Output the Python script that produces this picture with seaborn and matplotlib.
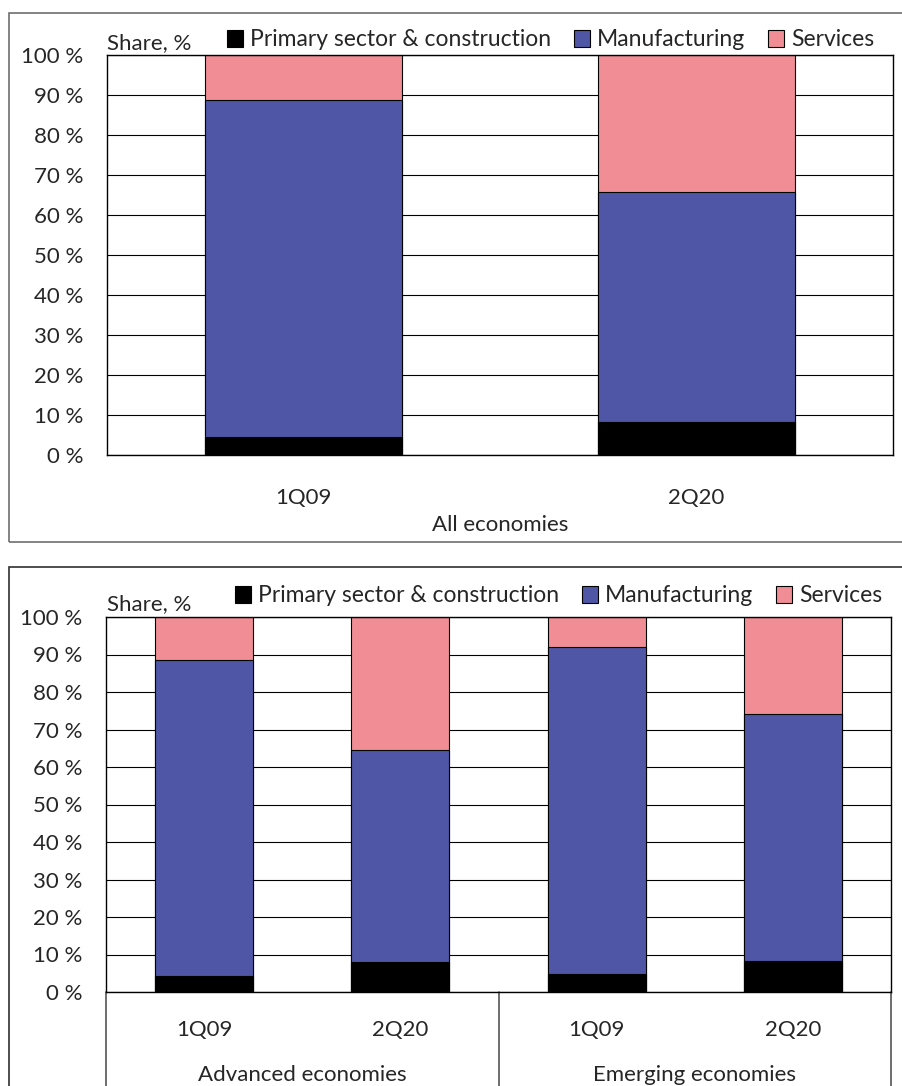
import pandas as pd
import seaborn as sns
import matplotlib.pyplot as plt
from matplotlib.patches import Rectangle, Patch
from matplotlib.lines import Line2D

# Data (shares, %)
sectors = ["Primary sector & construction", "Manufacturing", "Services"]
colors = ["#000000", "#4F56A6", "#F18D95"]

top_periods = ["1Q09", "2Q20"]
top_primary = [4.5, 8.2]
top_manuf = [84.3, 57.6]
top_services = [11.2, 34.2]

bot_groups = ["Advanced economies", "Advanced economies", "Emerging economies", "Emerging economies"]
bot_periods = ["1Q09", "2Q20", "1Q09", "2Q20"]
bot_primary = [4.3, 7.9, 4.9, 8.3]
bot_manuf = [84.2, 56.6, 87.1, 65.8]
bot_services = [11.5, 35.5, 8.0, 25.9]

sns.set_style("white")
plt.rcParams["font.family"] = ["Lato", "DejaVu Sans"]
FS = 16
LFS = 16.5

W, H = 902, 1086
fig = plt.figure(figsize=(W / 100, H / 100), dpi=100)


def fx(px):
    return px / W


def fy(py):
    return 1 - py / H


def stacked(ax, df):
    df = df.copy()
    df["c1"] = df["primary"]
    df["c2"] = df["primary"] + df["manuf"]
    df["c3"] = df["c2"] + df["services"]
    order = list(df["slot"])
    for col, c in zip(["c3", "c2", "c1"], colors[::-1]):
        sns.barplot(data=df, x="slot", y=col, order=order, color=c, width=0.5,
                    edgecolor="black", linewidth=0.8, saturation=1, ax=ax)
    ax.set_ylim(0, 100)
    ax.set_xlim(-0.5, len(order) - 0.5)
    ax.set_yticks(range(0, 101, 10))
    ax.set_yticklabels([f"{v} %" for v in range(0, 101, 10)], fontsize=FS)
    ax.yaxis.grid(True, color="#000000", linewidth=0.8)
    ax.set_axisbelow(True)
    ax.tick_params(axis="both", length=0)
    ax.tick_params(axis="y", pad=17)
    ax.tick_params(axis="x", pad=24)
    ax.set_xlabel("")
    ax.set_ylabel("")
    for s in ax.spines.values():
        s.set_visible(True)
        s.set_color("black")
        s.set_linewidth(1.0)


handles = [Patch(facecolor=c, edgecolor="black", linewidth=0.8, label=s)
           for s, c in zip(sectors, colors)]

# ---- Top panel: all economies
fig.add_artist(Rectangle((fx(9), fy(542)), fx(902) - fx(9) + 0.01, fy(13) - fy(542),
                         transform=fig.transFigure, fill=False, edgecolor="#6e6e6e", linewidth=1.2))
ax1 = fig.add_axes([fx(107), fy(455), fx(893) - fx(107), fy(55) - fy(455)])
df_top = pd.DataFrame({"slot": top_periods, "primary": top_primary,
                       "manuf": top_manuf, "services": top_services})
stacked(ax1, df_top)
ax1.set_xticks(range(len(top_periods)))
ax1.set_xticklabels(top_periods, fontsize=FS)
fig.text(fx(107), fy(43), "Share, %", fontsize=FS, ha="left", va="center")
fig.text(0.5 * (fx(107) + fx(893)), fy(525), "All economies", fontsize=FS, ha="center", va="center")
fig.legend(handles=handles, loc="center right", bbox_to_anchor=(fx(874), fy(40)), ncol=3,
           frameon=False, fontsize=LFS, handlelength=0.7, handleheight=0.7,
           handletextpad=0.3, columnspacing=1.0, borderpad=0, borderaxespad=0)

# ---- Bottom panel: advanced vs emerging
fig.add_artist(Rectangle((fx(9), fy(1100)), fx(902) - fx(9) + 0.01, fy(567) - fy(1100),
                         transform=fig.transFigure, fill=False, edgecolor="#303030", linewidth=1.2))
ax2 = fig.add_axes([fx(106), fy(992), fx(891) - fx(106), fy(617) - fy(992)])
slots = [f"{g}|{p}" for g, p in zip(bot_groups, bot_periods)]
df_bot = pd.DataFrame({"slot": slots, "primary": bot_primary,
                       "manuf": bot_manuf, "services": bot_services})
stacked(ax2, df_bot)
ax2.set_xticks(range(len(slots)))
ax2.set_xticklabels(bot_periods, fontsize=FS)
ax2.tick_params(axis="x", pad=20)
fig.text(fx(107), fy(604), "Share, %", fontsize=FS, ha="left", va="center")
fig.legend(handles=handles, loc="center right", bbox_to_anchor=(fx(882), fy(596)), ncol=3,
           frameon=False, fontsize=LFS, handlelength=0.7, handleheight=0.7,
           handletextpad=0.3, columnspacing=1.0, borderpad=0, borderaxespad=0)

# group separators and group labels under the axis
for xd in [-0.5, 1.5, 3.5]:
    ax2.add_line(Line2D([xd, xd], [0, -0.3], transform=ax2.get_xaxis_transform(),
                        color="#555555", linewidth=1.2, clip_on=False))
for i, g in enumerate(["Advanced economies", "Emerging economies"]):
    ax2.text(2 * i + 0.5, -0.222, g, transform=ax2.get_xaxis_transform(),
             fontsize=FS, ha="center", va="center")

fig.savefig("out.png", dpi=100)
